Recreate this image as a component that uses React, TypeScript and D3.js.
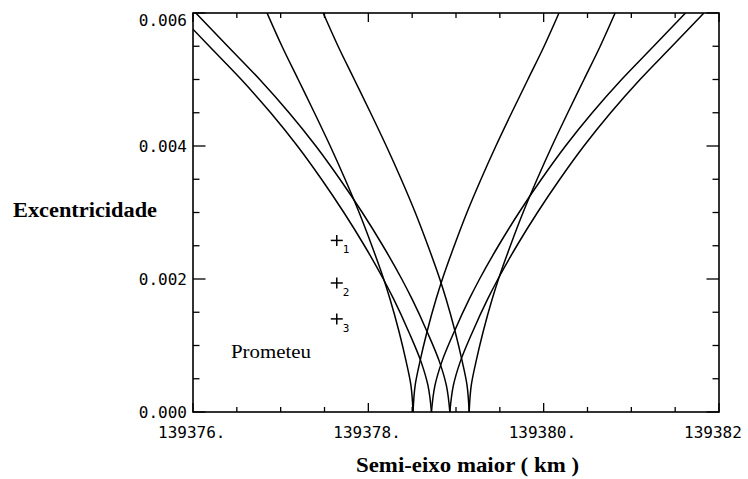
import React from "react";
import * as d3 from "d3";

// Eccentricity levels at which the half-widths of the V curves were read
const eLevels = [0, 0.0004, 0.00075, 0.0012, 0.0017, 0.002, 0.0025, 0.003, 0.0035, 0.004, 0.0045, 0.005, 0.0055, 0.006];
// Half-width (km) of the narrow V curves at each eccentricity level
const narrowHalfWidth = [0, 0.024, 0.077, 0.158, 0.263, 0.335, 0.47, 0.615, 0.775, 0.945, 1.125, 1.31, 1.495, 1.665];
// Half-width (km) of the wide V curves at each eccentricity level
const wideHalfWidth = [0, 0.04, 0.117, 0.257, 0.432, 0.549, 0.764, 0.999, 1.254, 1.529, 1.834, 2.169, 2.534, 2.898];
// Cusp (resonance) positions in semi-major axis
const cuspCenters = [139378.51, 139378.72, 139378.93, 139379.15];
const cuspWidthKind = ["narrow", "wide", "wide", "narrow"];

// Plus markers
const markerA = [139377.64, 139377.64, 139377.64];
const markerE = [0.00258, 0.00194, 0.0014];
const markerLabels = ["1", "2", "3"];

// Axis ticks
const xTickLabels = ["139376.", "139378.", "139380.", "139382"];
const xMajor = [139376, 139378, 139380, 139382];
const yTickLabels = ["0.000", "0.002", "0.004", "0.006"];
const yMajor = [0, 0.002, 0.004, 0.006];

export default function App() {
  const W = 748;
  const H = 479;
  const L = 193;
  const R = 719;
  const T = 13;
  const B = 412;
  const x = d3.scaleLinear().domain([139376, 139382]).range([L, R]);
  const y = d3.scaleLinear().domain([0, 0.006]).range([B, T]);

  const line = d3
    .line<[number, number]>()
    .x((d) => x(d[0]))
    .y((d) => y(d[1]))
    .curve(d3.curveMonotoneY);

  const branches: [number, number][][] = [];
  cuspCenters.forEach((c, i) => {
    const w = cuspWidthKind[i] === "narrow" ? narrowHalfWidth : wideHalfWidth;
    const leftB = eLevels.map((e, j) => [c - w[j], e] as [number, number]).reverse();
    const rightB = eLevels.map((e, j) => [c + w[j], e] as [number, number]).reverse();
    branches.push(leftB, rightB);
  });

  const xTicks = d3.range(0, 13).map((i) => 139376 + i * 0.5);
  const yTicks = d3.range(0, 13).map((i) => i * 0.0005);
  const isXMajor = (v: number) => xMajor.some((m) => Math.abs(m - v) < 1e-6);
  const isYMajor = (v: number) => yMajor.some((m) => Math.abs(m - v) < 1e-9);

  const tickFont = "'DejaVu Sans Mono', monospace";
  const serif = "'Liberation Serif', 'Times New Roman', serif";

  return (
    <svg
      width={W}
      height={H}
      style={{ position: "absolute", left: 0, top: 0, background: "#fff" }}
    >
      <defs>
        <clipPath id="plotClip">
          <rect x={L} y={T} width={R - L} height={B - T} />
        </clipPath>
      </defs>
      <rect x={0} y={0} width={W} height={H} fill="#fff" />

      {/* curves */}
      <g clipPath="url(#plotClip)">
        {branches.map((b, i) => (
          <path key={i} d={line(b) || ""} fill="none" stroke="#000" strokeWidth={1.5} />
        ))}
      </g>

      {/* frame */}
      <rect x={L} y={T} width={R - L} height={B - T} fill="none" stroke="#000" strokeWidth={1.6} />

      {/* x ticks bottom and top */}
      {xTicks.map((v, i) => {
        const len = isXMajor(v) ? 9 : 5;
        return (
          <g key={"xt" + i}>
            <line x1={x(v)} x2={x(v)} y1={B} y2={B - len} stroke="#000" strokeWidth={1.3} />
            <line x1={x(v)} x2={x(v)} y1={T} y2={T + len} stroke="#000" strokeWidth={1.3} />
          </g>
        );
      })}
      {/* y ticks left and right */}
      {yTicks.map((v, i) => {
        const len = isYMajor(v) ? 12.5 : 6.5;
        return (
          <g key={"yt" + i}>
            <line x1={L} x2={L + len} y1={y(v)} y2={y(v)} stroke="#000" strokeWidth={1.3} />
            <line x1={R} x2={R - len} y1={y(v)} y2={y(v)} stroke="#000" strokeWidth={1.3} />
          </g>
        );
      })}

      {/* x tick labels */}
      {xMajor.map((v, i) => (
        <text
          key={"xl" + i}
          x={x(v) - 35}
          y={438}
          textAnchor="start"
          fontFamily={tickFont}
          fontSize={16}
          fill="#000"
        >
          {xTickLabels[i]}
        </text>
      ))}
      {/* y tick labels */}
      {yMajor.map((v, i) => (
        <text
          key={"yl" + i}
          x={187}
          y={i === 3 ? 26 : y(v) + 6}
          textAnchor="end"
          fontFamily={tickFont}
          fontSize={16}
          fill="#000"
        >
          {yTickLabels[i]}
        </text>
      ))}

      {/* plus markers */}
      {markerA.map((a, i) => {
        const cx = x(a);
        const cy = y(markerE[i]);
        return (
          <g key={"m" + i}>
            <line x1={cx - 6} x2={cx + 6} y1={cy} y2={cy} stroke="#000" strokeWidth={1.5} />
            <line x1={cx} x2={cx} y1={cy - 5.5} y2={cy + 5.5} stroke="#000" strokeWidth={1.5} />
            <text x={cx + 6} y={cy + 13} fontFamily={tickFont} fontSize={11} fill="#000">
              {markerLabels[i]}
            </text>
          </g>
        );
      })}

      <text x={231} y={358} fontFamily={serif} fontSize={18} textLength={80} lengthAdjust="spacingAndGlyphs" fill="#000">
        Prometeu
      </text>

      <text
        x={13}
        y={217}
        fontFamily={serif}
        fontSize={20}
        fontWeight="bold"
        textLength={144}
        lengthAdjust="spacingAndGlyphs"
        fill="#000"
      >
        Excentricidade
      </text>

      <text
        x={356}
        y={472}
        fontFamily={serif}
        fontSize={20}
        fontWeight="bold"
        textLength={223}
        lengthAdjust="spacingAndGlyphs"
        fill="#000"
      >
        Semi-eixo maior ( km )
      </text>
    </svg>
  );
}
